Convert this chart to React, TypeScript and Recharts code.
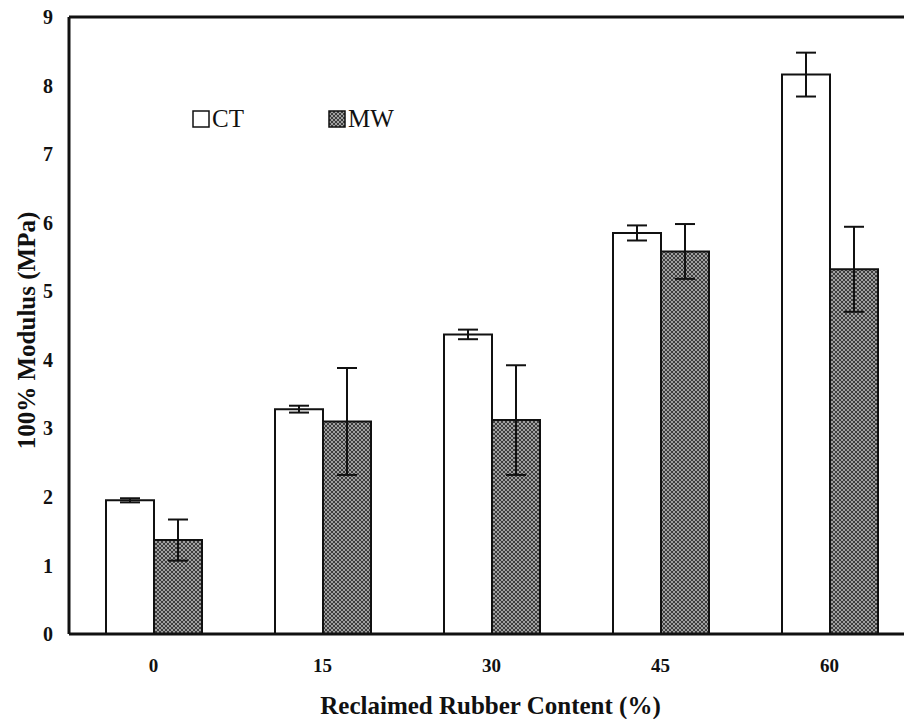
import { BarChart, Bar, XAxis, YAxis, ErrorBar, ReferenceLine } from 'recharts'

// Reclaimed rubber content (%) vs 100% modulus, CT vs MW
const categories = ['0', '15', '30', '45', '60']
const ctValues = [1.95, 3.28, 4.37, 5.85, 8.16]
const ctErrors = [0.03, 0.05, 0.07, 0.11, 0.32]
const mwValues = [1.37, 3.1, 3.12, 5.58, 5.32]
const mwErrors = [0.3, 0.78, 0.8, 0.4, 0.62]
const yTicks = [0, 1, 2, 3, 4, 5, 6, 7, 8, 9]
const seriesNames = ['CT', 'MW']

const FONT = '"Liberation Serif", "Times New Roman", serif'

const data = categories.map((c, i) => ({
  content: c,
  CT: ctValues[i],
  ctErr: ctErrors[i],
  MW: mwValues[i],
  mwErr: mwErrors[i],
}))

// Legende als Overlay (CT leer, MW schraffiert)
function LegendBox() {
  const lefts = [192, 328]
  return (
    <>
      {seriesNames.map((name, i) => (
        <div
          key={name}
          style={{ position: 'absolute', left: lefts[i], top: 104, display: 'flex', alignItems: 'center' }}
        >
          <svg width={18} height={18} style={{ marginRight: 2 }}>
            <rect
              x={1}
              y={1}
              width={16}
              height={16}
              fill={i === 1 ? 'url(#hatch)' : '#fff'}
              stroke="#111"
              strokeWidth={1.5}
            />
          </svg>
          <span style={{ fontFamily: FONT, fontSize: 25, color: '#111', lineHeight: '30px' }}>{name}</span>
        </div>
      ))}
    </>
  )
}

export default function App() {
  return (
    <div style={{ position: 'absolute', left: 0, top: 0, width: 904, height: 719, overflow: 'hidden', background: '#fff' }}>
      <BarChart
        width={924}
        height={719}
        data={data}
        margin={{ top: 17, right: 10, bottom: 0, left: 0 }}
        barSize={48}
        barGap={0}
      >
        <defs>
          <pattern id="hatch" width={4} height={4} patternUnits="userSpaceOnUse">
            <rect width={4} height={4} fill="#a0a0a0" />
            <path d="M0,0 L4,4 M4,0 L0,4" stroke="#333" strokeWidth={0.9} />
          </pattern>
        </defs>
        <XAxis
          dataKey="content"
          height={85}
          axisLine={{ stroke: '#111', strokeWidth: 3 }}
          tickLine={false}
          tickSize={6}
          tickMargin={19}
          tick={{ fill: '#111', fontSize: 19, fontWeight: 'bold', fontFamily: FONT }}
          label={(props: any) => {
            const vb = props.viewBox
            return (
              <text
                x={vb.x + vb.width / 2 - 1}
                y={vb.y + 80}
                textAnchor="middle"
                fontFamily={FONT}
                fontWeight="bold"
                fontSize={25}
                fill="#111"
              >
                Reclaimed Rubber Content (%)
              </text>
            )
          }}
        />
        <YAxis
          width={69}
          domain={[0, 9]}
          ticks={yTicks}
          interval={0}
          axisLine={{ stroke: '#111', strokeWidth: 3 }}
          tickLine={false}
          tickSize={6}
          tickMargin={10}
          tick={{ fill: '#111', fontSize: 20, fontWeight: 'bold', fontFamily: FONT }}
          label={(props: any) => {
            const vb = props.viewBox
            const cy = vb.y + vb.height / 2 + 5
            return (
              <text
                x={26}
                y={cy}
                transform={`rotate(-90, 26, ${cy})`}
                textAnchor="middle"
                dominantBaseline="central"
                fontFamily={FONT}
                fontWeight="bold"
                fontSize={25}
                fill="#111"
              >
                100% Modulus (MPa)
              </text>
            )
          }}
        />
        <ReferenceLine y={9} stroke="#111" strokeWidth={3} />
        <Bar dataKey="CT" fill="#fff" stroke="#111" strokeWidth={2} isAnimationActive={false}>
          <ErrorBar dataKey="ctErr" width={10} stroke="#111" strokeWidth={2} isAnimationActive={false} />
        </Bar>
        <Bar dataKey="MW" fill="url(#hatch)" stroke="#111" strokeWidth={2} isAnimationActive={false}>
          <ErrorBar dataKey="mwErr" width={10} stroke="#111" strokeWidth={2} isAnimationActive={false} />
        </Bar>
      </BarChart>
      <LegendBox />
    </div>
  )
}
